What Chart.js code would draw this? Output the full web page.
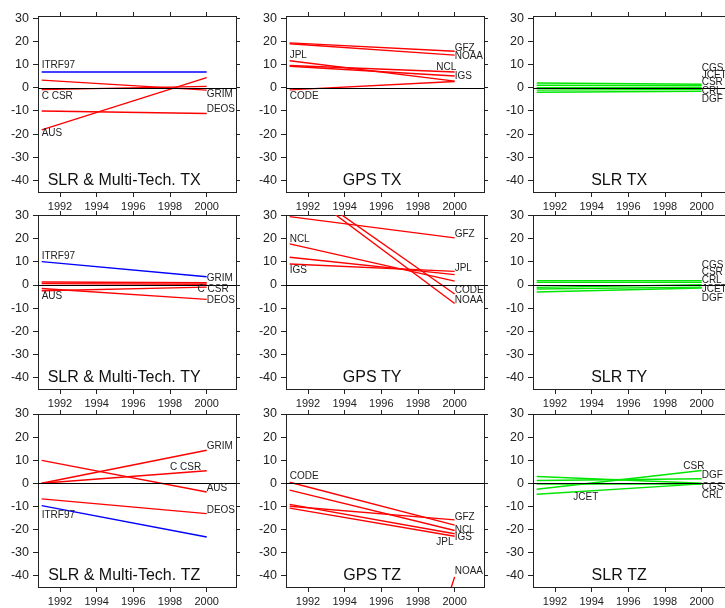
<!DOCTYPE html>
<html lang="en">
<head>
<meta charset="UTF-8">
<title>Translation trends TX / TY / TZ</title>
<script src="https://cdn.jsdelivr.net/npm/chart.js"></script>
<style>
    html, body { margin: 0; padding: 0; background: #fff; overflow: hidden; }
    body { width: 725px; height: 608px; position: relative; }
    canvas.panel { position: absolute; }
</style>
</head>
<body>
<script>
// --- data: every trend line runs from 1991 to 2000 (values in mm) ---
const years = [1991, 2000];
const xTicks = [1992, 1994, 1996, 1998, 2000];
const yTicks = [-40, -30, -20, -10, 0, 10, 20, 30];

const mtNames = ['ITRF97', 'GRIM', 'C CSR', 'AUS', 'DEOS'];
const mtTX = [[6.8, 6.8], [3.3, -1.0], [-0.8, 0.6], [-18.2, 4.4], [-10.0, -11.1]];
const mtTY = [[10.1, 3.6], [1.3, 1.0], [-2.5, -0.9], [0.6, 0.3], [-1.5, -6.2]];
const mtTZ = [[-9.7, -23.3], [0.0, 14.3], [0.0, 5.4], [9.9, -3.8], [-6.8, -13.2]];

const gpsNames = ['CODE', 'GFZ', 'JPL', 'NCL', 'IGS', 'NOAA'];
const gpsTX = [[-0.9, 2.7], [19.4, 15.8], [11.7, 2.9], [9.6, 6.8], [9.3, 5.1], [19.0, 14.1]];
const gpsTY = [[46.1, -3.9], [29.6, 20.4], [12.0, 4.5], [17.8, 1.7], [9.1, 5.9], [45.2, -8.0]];
const gpsTZ = [[0.4, -18.2], [-10.0, -15.9], [-10.8, -23.0], [-3.0, -20.5], [-9.2, -21.9], [-260, -40.6]];

const slrNames = ['CGS', 'JCET', 'CSR', 'CRL', 'DGF'];
const slrTX = [[2.1, 1.5], [1.1, 0.9], [0.0, 0.0], [-1.0, -0.7], [-1.9, -1.5]];
const slrTY = [[1.9, 1.9], [-1.7, -0.9], [1.2, 1.2], [-1.0, 0.1], [-3.0, -1.3]];
const slrTZ = [[2.9, 0.0], [-4.8, -0.3], [-2.6, 5.5], [-0.4, -0.4], [1.2, 1.9]];

// name tags: [text, year of left edge, value of text centre]
const mtTXTags = [['ITRF97', 1991, 9.7], ['C CSR', 1991, -3.6], ['AUS', 1991, -19.6], ['GRIM', 2000, -2.6], ['DEOS', 2000, -9.4]];
const mtTYTags = [['ITRF97', 1991, 12.4], ['AUS', 1991, -4.9], ['GRIM', 2000, 2.9], ['C CSR', 1999.5, -2.0], ['DEOS', 2000, -6.6]];
const mtTZTags = [['GRIM', 2000, 15.9], ['C CSR', 1998.0, 6.8], ['AUS', 2000, -2.3], ['DEOS', 2000, -11.7], ['ITRF97', 1991, -13.8]];
const gpsTXTags = [['JPL', 1991, 14.1], ['CODE', 1991, -3.6], ['GFZ', 2000, 17.2], ['NOAA', 2000, 13.6], ['NCL', 1999.0, 9.0], ['IGS', 2000, 5.1]];
const gpsTYTags = [['GFZ', 2000, 21.9], ['NCL', 1991, 20.0], ['IGS', 1991, 6.2], ['JPL', 2000, 7.4], ['CODE', 2000, -2.3], ['NOAA', 2000, -6.4]];
const gpsTZTags = [['CODE', 1991, 3.2], ['GFZ', 2000, -14.8], ['NCL', 2000, -20.3], ['IGS', 2000, -23.5], ['JPL', 1999.0, -25.8], ['NOAA', 2000, -38.0]];
const slrTXTags = [['CGS', 2000, 8.4], ['JCET', 2000, 5.4], ['CSR', 2000, 2.4], ['CRL', 2000, -1.5], ['DGF', 2000, -5.1]];
const slrTYTags = [['CGS', 2000, 8.7], ['CSR', 2000, 5.5], ['CRL', 2000, 2.0], ['JCET', 2000, -2.0], ['DGF', 2000, -5.9]];
const slrTZTags = [['CSR', 1999.0, 7.5], ['DGF', 2000, 3.5], ['CGS', 2000, -1.6], ['CRL', 2000, -5.4], ['JCET', 1993.0, -6.1]];

// --- styling / layout ---
const FONT = '"Liberation Sans", Arial, Helvetica, sans-serif';
const RED = '#ff0000', BLUE = '#0000ff', GREEN = '#00e600';
const mtColors = [BLUE, RED, RED, RED, RED];
const gpsColors = gpsNames.map(() => RED);
const slrColors = slrNames.map(() => GREEN);

const colLeft = [38.3, 286, 533.3];   // left edge of each plot frame
const rowTop = [15.7, 215, 414];      // top edge of each plot frame
const rowYMax = [31, 30.3, 30];
const PX_PER_MM = 2.31;
const PLOT_W = 198;
const X_MIN = 1990.8, X_MAX = 2001.6, Y_MIN = -45;
const AXIS_L = 38, AXIS_T = 5, AXIS_R = 5, AXIS_B = 22, PAD_R = 24, PAD_T = 8;

const panels = [
    { title: 'SLR & Multi-Tech. TX', names: mtNames, values: mtTX, colors: mtColors, tags: mtTXTags },
    { title: 'GPS TX', names: gpsNames, values: gpsTX, colors: gpsColors, tags: gpsTXTags },
    { title: 'SLR TX', names: slrNames, values: slrTX, colors: slrColors, tags: slrTXTags },
    { title: 'SLR & Multi-Tech. TY', names: mtNames, values: mtTY, colors: mtColors, tags: mtTYTags },
    { title: 'GPS TY', names: gpsNames, values: gpsTY, colors: gpsColors, tags: gpsTYTags },
    { title: 'SLR TY', names: slrNames, values: slrTY, colors: slrColors, tags: slrTYTags },
    { title: 'SLR & Multi-Tech. TZ', names: mtNames, values: mtTZ, colors: mtColors, tags: mtTZTags },
    { title: 'GPS TZ', names: gpsNames, values: gpsTZ, colors: gpsColors, tags: gpsTZTags },
    { title: 'SLR TZ', names: slrNames, values: slrTZ, colors: slrColors, tags: slrTZTags },
];

Chart.defaults.font.family = FONT;

// zero line, series name tags and the panel caption
const panelDecor = {
    id: 'panelDecor',
    afterDatasetsDraw(chart, args, opts) {
        const { ctx, chartArea: a } = chart;
        const x = chart.scales.x, y = chart.scales.y;
        ctx.save();
        const y0 = Math.round(y.getPixelForValue(0)) + 0.5;
        ctx.strokeStyle = '#000';
        ctx.lineWidth = 1;
        ctx.beginPath();
        ctx.moveTo(a.left, y0);
        ctx.lineTo(a.right, y0);
        ctx.stroke();

        ctx.fillStyle = '#222';
        ctx.font = '10px ' + FONT;
        ctx.textAlign = 'left';
        ctx.textBaseline = 'middle';
        opts.tags.forEach(([text, yr, v]) => {
            ctx.fillText(text, x.getPixelForValue(yr), y.getPixelForValue(v));
        });

        ctx.font = '16px ' + FONT;
        ctx.textAlign = 'center';
        ctx.fillStyle = '#111';
        ctx.fillText(opts.title, x.getPixelForValue(1995.5), y.getPixelForValue(-40));
        ctx.restore();
    }
};

const frameGrid = (len) => ({ drawOnChartArea: false, tickLength: len, color: '#222', lineWidth: 1 });
const frameBorder = { display: true, color: '#222', width: 1 };
const setTicks = (list) => (s) => { s.ticks = list.map(v => ({ value: v })); };
// fixed axis thickness, and no extra room reserved for labels hanging over the ends
const fixSize = (key, size) => (s) => {
    s[key] = size;
    s.paddingTop = s.paddingBottom = s.paddingLeft = s.paddingRight = 0;
};

panels.forEach((p, i) => {
    const r = Math.floor(i / 3), c = i % 3;
    const yMax = rowYMax[r];
    const plotH = (yMax - Y_MIN) * PX_PER_MM;

    const canvas = document.createElement('canvas');
    canvas.className = 'panel';
    canvas.width = AXIS_L + PLOT_W + AXIS_R + PAD_R;
    canvas.height = Math.round(PAD_T + AXIS_T + plotH + AXIS_B);
    canvas.style.left = (colLeft[c] - AXIS_L) + 'px';
    canvas.style.top = (rowTop[r] - AXIS_T - PAD_T) + 'px';
    document.body.appendChild(canvas);

    new Chart(canvas, {
        type: 'line',
        data: {
            datasets: p.names.map((name, k) => ({
                label: name,
                data: years.map((yr, j) => ({ x: yr, y: p.values[k][j] })),
                borderColor: p.colors[k],
                borderWidth: 1.4,
                pointRadius: 0,
                fill: false,
                tension: 0,
                clip: 0
            }))
        },
        options: {
            responsive: false,
            animation: false,
            events: [],
            layout: { padding: { left: 0, top: PAD_T, right: PAD_R, bottom: 0 } },
            plugins: {
                legend: { display: false },
                tooltip: { enabled: false },
                panelDecor: { title: p.title, tags: p.tags }
            },
            scales: {
                x: {
                    type: 'linear', position: 'bottom', min: X_MIN, max: X_MAX,
                    afterBuildTicks: setTicks(xTicks),
                    afterFit: fixSize('height', AXIS_B),
                    ticks: { callback: v => String(v), font: { size: 11 }, color: '#222', padding: 3, maxRotation: 0, autoSkip: false },
                    grid: frameGrid(5),
                    border: frameBorder
                },
                xTop: {
                    type: 'linear', position: 'top', min: X_MIN, max: X_MAX,
                    afterBuildTicks: setTicks(xTicks),
                    afterFit: fixSize('height', AXIS_T),
                    ticks: { display: false },
                    grid: frameGrid(4),
                    border: frameBorder
                },
                y: {
                    type: 'linear', position: 'left', min: Y_MIN, max: yMax,
                    afterBuildTicks: setTicks(yTicks),
                    afterFit: fixSize('width', AXIS_L),
                    ticks: { font: { size: 12.5 }, color: '#222', padding: 4 },
                    grid: frameGrid(5),
                    border: frameBorder
                },
                yRight: {
                    type: 'linear', position: 'right', min: Y_MIN, max: yMax,
                    afterBuildTicks: setTicks(yTicks),
                    afterFit: fixSize('width', AXIS_R),
                    ticks: { display: false },
                    grid: frameGrid(4),
                    border: frameBorder
                }
            }
        },
        plugins: [panelDecor]
    });
});
</script>
</body>
</html>
